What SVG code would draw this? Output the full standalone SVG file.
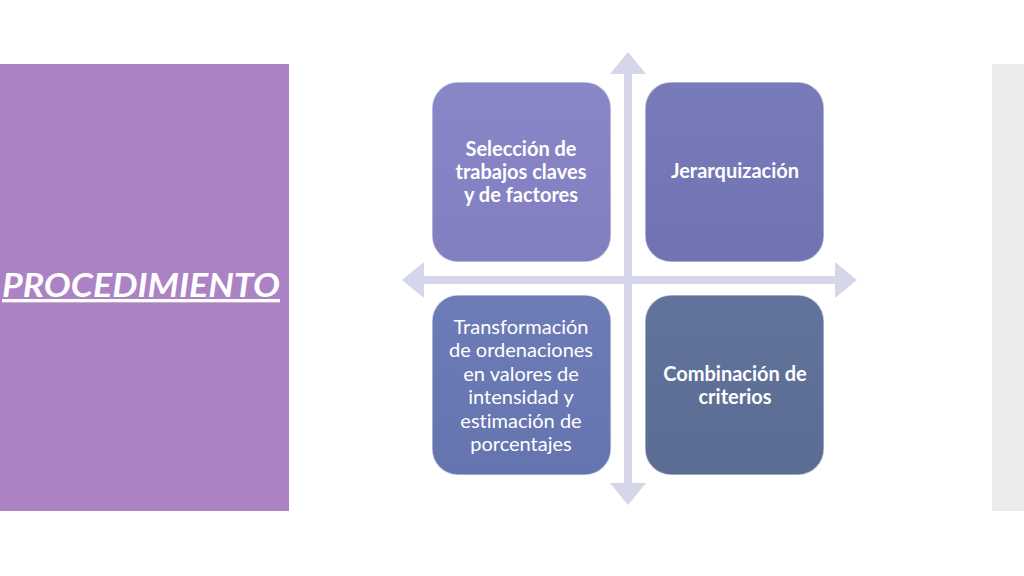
<svg xmlns="http://www.w3.org/2000/svg" width="1024" height="576" viewBox="0 0 1024 576">
<defs>
<style>
.lbl{font-family:Lato,"Open Sans","Liberation Sans",sans-serif;font-size:20px;fill:#ffffff;text-anchor:middle;font-variant-ligatures:none}
.b{font-weight:bold}
.box{stroke:#ffffff;stroke-opacity:0.55;stroke-width:1.5}
.arr{fill:#D6D6EA}
</style>
<linearGradient id="sh" x1="0" y1="0" x2="0" y2="1">
<stop offset="0" stop-color="#ffffff" stop-opacity="0.03"/>
<stop offset="1" stop-color="#000000" stop-opacity="0.03"/>
</linearGradient>
</defs>
<rect width="1024" height="576" fill="#ffffff"/>
<rect id="panel-left" x="0" y="64" width="289" height="447" fill="#AB83C5"/>
<rect id="panel-right" x="992" y="64" width="32" height="447" fill="#EBEBEB"/>
<text id="title" x="2" y="297" textLength="278" lengthAdjust="spacingAndGlyphs" font-family="Lato,'Open Sans','Liberation Sans',sans-serif" font-size="33" font-weight="bold" font-style="italic" fill="#ffffff" text-decoration="underline">PROCEDIMIENTO</text>
<g id="connectors">
<path class="arr" d="M628 52 L646 74 L632 74 L632 483 L646 483 L628 505 L610 483 L624 483 L624 74 L610 74 Z"/>
<path class="arr" d="M402 280 L424 262 L424 276 L835 276 L835 262 L857 280 L835 298 L835 284 L424 284 L424 298 Z"/>
</g>
<g id="node-seleccion">
<rect class="box" x="432" y="82" width="179" height="180" rx="26" fill="#8683C6"/>
<rect x="432" y="82" width="179" height="180" rx="26" fill="url(#sh)"/>
<text class="lbl b" x="521" y="156">Selección de</text>
<text class="lbl b" x="521" y="179">trabajos claves</text>
<text class="lbl b" x="521" y="202">y de factores</text>
</g>
<g id="node-jerarquizacion">
<rect class="box" x="645" y="82" width="179" height="180" rx="26" fill="#7477B8"/>
<rect x="645" y="82" width="179" height="180" rx="26" fill="url(#sh)"/>
<text class="lbl b" x="735" y="178">Jerarquización</text>
</g>
<g id="node-transformacion">
<rect class="box" x="432" y="295" width="179" height="180" rx="26" fill="#6878B4"/>
<rect x="432" y="295" width="179" height="180" rx="26" fill="url(#sh)"/>
<text class="lbl" x="521" y="334">Transformación</text>
<text class="lbl" x="521" y="357">de ordenaciones</text>
<text class="lbl" x="521" y="381">en valores de</text>
<text class="lbl" x="521" y="404">intensidad y</text>
<text class="lbl" x="521" y="428">estimación de</text>
<text class="lbl" x="521" y="451">porcentajes</text>
</g>
<g id="node-combinacion">
<rect class="box" x="645" y="295" width="179" height="180" rx="26" fill="#5D6F99"/>
<rect x="645" y="295" width="179" height="180" rx="26" fill="url(#sh)"/>
<text class="lbl b" x="735" y="381">Combinación de</text>
<text class="lbl b" x="735" y="404">criterios</text>
</g>
</svg>
